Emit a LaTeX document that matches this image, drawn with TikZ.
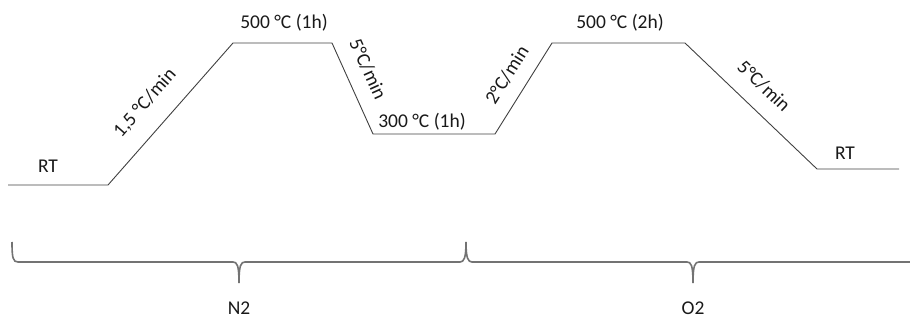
\documentclass[tikz,border=0pt]{standalone}
\usepackage{fontspec}
\setmainfont{Carlito}
\begin{document}
\begin{tikzpicture}[x=1pt,y=-1pt,
  prof/.style={draw=black!75,line width=0.9pt},
  brc/.style={draw=black!55,line width=1.6pt},
  lbl/.style={font=\fontsize{19.5}{22}\selectfont,inner sep=0pt,text=black!90}]
\useasboundingbox (0,0) rectangle (910,320);
% profile points
\coordinate (p0) at (8,185);
\coordinate (p1) at (108,185);
\coordinate (p2) at (233,43);
\coordinate (p3) at (332,43);
\coordinate (p4) at (373,134);
\coordinate (p5) at (495,134);
\coordinate (p6) at (552,43);
\coordinate (p7) at (685,43);
\coordinate (p8) at (817,169);
\coordinate (p9) at (899,169);
\draw[prof] (p0) -- (p1) -- (p2) -- (p3) -- (p4) -- (p5) -- (p6) -- (p7) -- (p8) -- (p9);
% labels
\node[lbl] (rt1) at (48,166) {RT};
\node[lbl,rotate=48.6] (r1) at (145,103) {1,5 °C/min};
\node[lbl] (t1) at (284,23) {500 °C (1h)};
\node[lbl,rotate=-65.7] (r2) at (368,69) {5°C/min};
\node[lbl] (t2) at (422,122) {300 °C (1h)};
\node[lbl,rotate=58] (r3) at (507,75) {2°C/min};
\node[lbl] (t3) at (620,23) {500 °C (2h)};
\node[lbl,rotate=-43.7] (r4) at (764,86) {5°C/min};
\node[lbl] (rt2) at (845,153) {RT};
% braces
\coordinate (b0) at (12,242);
\coordinate (bm) at (466,242);
\coordinate (tipN) at (239,283);
\coordinate (tipO) at (693,283);
\coordinate (bend) at (922,242);
\draw[brc] (b0) .. controls (12,258) and (13,262) .. (18,262) -- (233,262)
  .. controls (237,262) and (239,265) .. (tipN)
  .. controls (239,265) and (241,262) .. (245,262) -- (460,262)
  .. controls (464,262) and (466,258) .. (bm)
  .. controls (466,258) and (468,262) .. (472,262) -- (687,262)
  .. controls (691,262) and (693,265) .. (tipO)
  .. controls (693,265) and (695,262) .. (699,262) -- (916,262)
  .. controls (920,262) and (922,258) .. (bend);
\node[lbl] (n2) at (239,308) {N2};
\node[lbl] (o2) at (693,308) {O2};
\end{tikzpicture}
\end{document}
